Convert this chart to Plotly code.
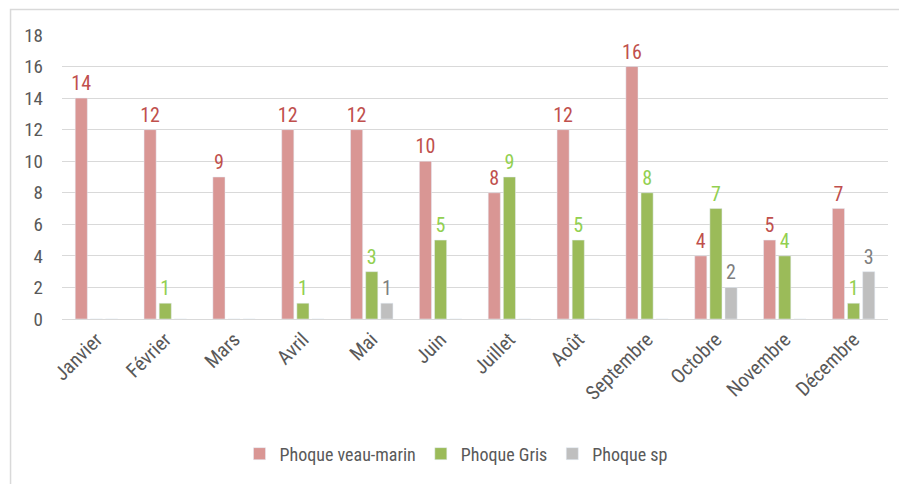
import plotly.graph_objects as go

months = ["Janvier", "Février", "Mars", "Avril", "Mai", "Juin", "Juillet", "Août",
          "Septembre", "Octobre", "Novembre", "Décembre"]
veau_marin = [14, 12, 9, 12, 12, 10, 8, 12, 16, 4, 5, 7]
gris = [0, 1, 0, 1, 3, 5, 9, 5, 8, 7, 4, 1]
sp = [0, 0, 0, 0, 1, 0, 0, 0, 0, 2, 0, 3]
y_ticks = [0, 2, 4, 6, 8, 10, 12, 14, 16, 18]

FONT = "Roboto Condensed, Arial Narrow, Roboto, sans-serif"

def labels(vals):
    return [str(v) if v else "" for v in vals]

series = [
    ("Phoque veau-marin", veau_marin, "#D99694", "#C0504D"),
    ("Phoque Gris", gris, "#9BBB59", "#92D050"),
    ("Phoque sp", sp, "#BFBFBF", "#7F7F7F"),
]

fig = go.Figure()
for name, vals, col, tcol in series:
    fig.add_trace(go.Bar(
        x=months, y=vals, name=name, marker_color=col,
        text=labels(vals), textposition="outside", cliponaxis=False,
        constraintext="none",
        textfont=dict(color=tcol, size=20, family=FONT),
    ))

# page body has an 8px margin, so figure is 8px smaller and margins shifted
fig.update_layout(
    width=899, height=476,
    margin=dict(l=54, r=19, t=27, b=157),
    paper_bgcolor="white", plot_bgcolor="white",
    barmode="group", bargap=0.34, bargroupgap=0.2,
    font=dict(family=FONT, color="#595959", size=18),
    showlegend=True,
    legend=dict(orientation="h", x=0.477, xanchor="center", y=-0.41, yanchor="top",
                font=dict(size=18, color="#595959", family=FONT), traceorder="normal",
                itemwidth=30),
)
fig.update_yaxes(range=[0, 18], tickvals=y_ticks, showgrid=True, gridcolor="#D9D9D9",
                 zeroline=False, showline=False, ticks="", tickfont=dict(size=19),
                 ticklabelstandoff=18, automargin=False)
fig.update_xaxes(tickangle=-45, showline=True, linecolor="#D9D9D9", ticks="",
                 tickfont=dict(size=20), automargin=False)
fig.add_shape(type="rect", xref="paper", yref="paper", x0=-0.0623, x1=1.027,
              y0=-0.62, y1=1.09, line=dict(color="#D9D9D9", width=1.5), layer="below")

fig.write_html("out.html")
